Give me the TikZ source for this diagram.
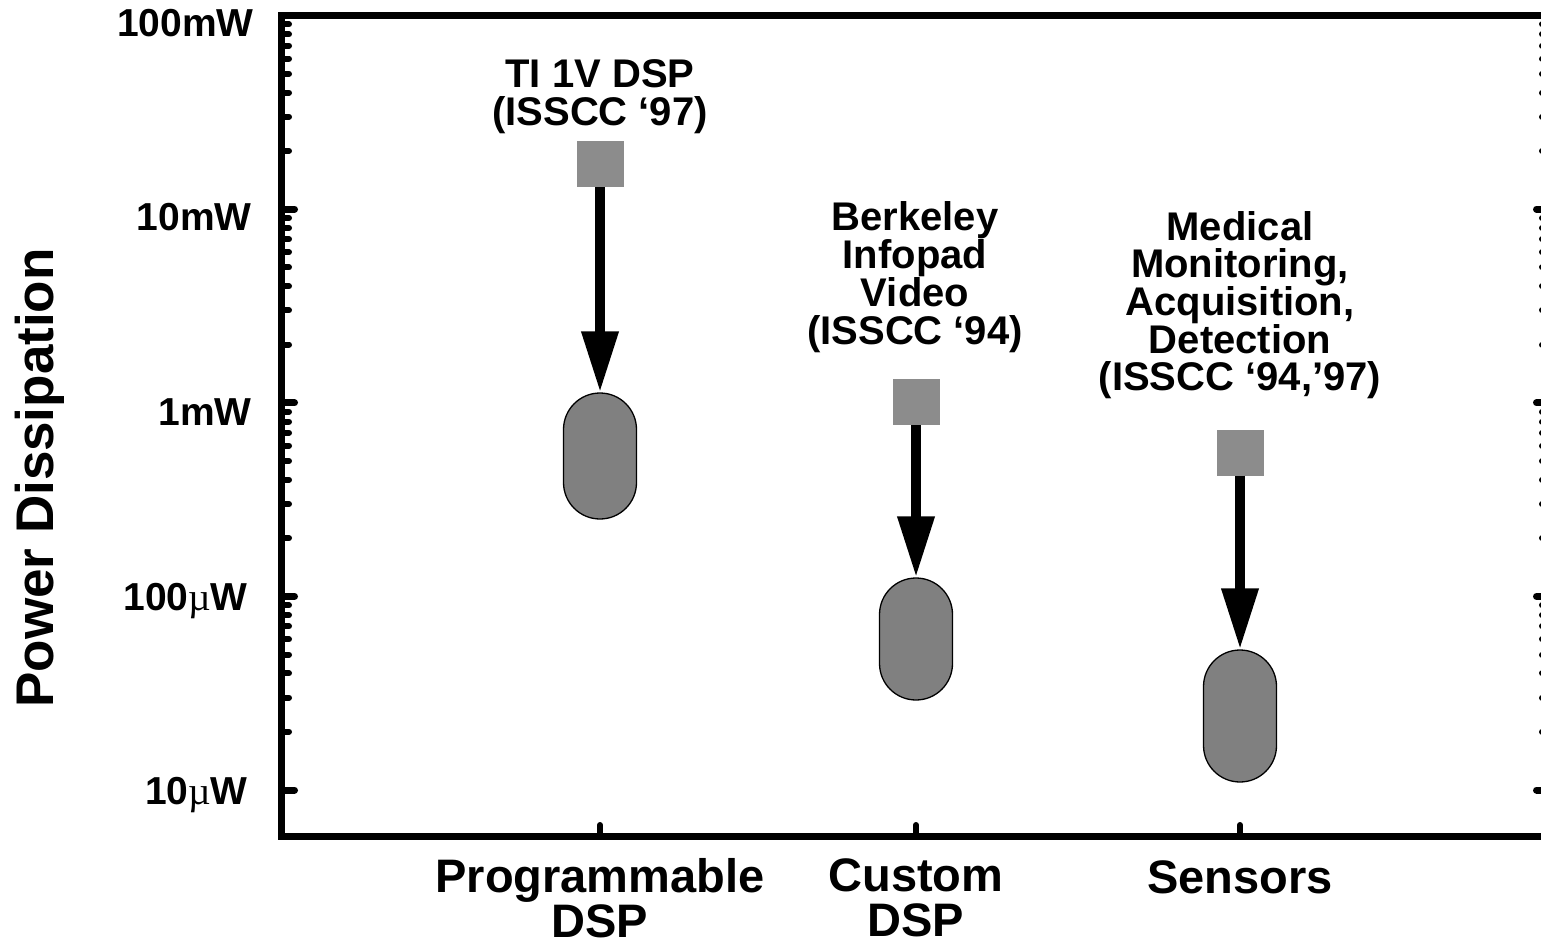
\documentclass[tikz,border=0pt]{standalone}
\usepackage{fontspec}
\setmainfont{Liberation Sans}
\newfontfamily\mufont{Liberation Serif}
\usetikzlibrary{arrows.meta}
\definecolor{sqgray}{gray}{0.55}
\definecolor{pillgray}{gray}{0.5}
\newcommand{\mumark}{{\mufont\mdseries µ}}

\begin{document}
\begin{tikzpicture}[x=1pt,y=-1pt,
  major/.style={line width=7,line cap=round},
  minor/.style={line width=6,line cap=round},
  ylab/.style={font=\fontsize{39}{44}\selectfont\bfseries,anchor=base east,inner sep=0},
  xlab/.style={font=\fontsize{47}{45}\selectfont\bfseries,anchor=north,align=center,inner sep=0},
  note/.style={font=\fontsize{40}{38}\selectfont\bfseries,anchor=north,align=center,inner sep=0},
  paper/.style={rectangle,fill=sqgray,minimum width=47,minimum height=46,inner sep=0},
  target/.style={rectangle,draw,line width=1.3,fill=pillgray,minimum width=73,rounded corners=36.5,inner sep=0},
  trend/.style={line width=10,-{Triangle[width=35pt,length=61pt]}}]
	\useasboundingbox (0,0) rectangle (1541,947);
	% frame and log ticks
	\draw[line width=7] (281.5,15.5) rectangle (1550,836.5);
	\foreach \d in {0,1,2,3}{
		\foreach \m in {2,...,9}{
			\pgfmathsetmacro{\ty}{790-193.6*(\d+log10(\m))}
			\draw[minor] (281.5,\ty) -- (289,\ty);
			\draw[minor] (1550,\ty) -- (1542,\ty);
		}
		\pgfmathsetmacro{\ty}{790-193.6*\d}
		\draw[major] (281.5,\ty) -- (294.5,\ty);
		\draw[major] (1550,\ty) -- (1536.5,\ty);
	}
	\foreach \x in {600,916,1240}
		\draw[minor] (\x,836.5) -- (\x,825);
	% axis labels
	\node[ylab] (l100m) at (254,37) {100mW};
	\node[ylab] (l10m) at (252,230) {10mW};
	\node[ylab] (l1m) at (252,425) {1mW};
	\node[ylab] (l100u) at (248,610) {100\mumark W};
	\node[ylab] (l10u) at (248,804) {10\mumark W};
	\node[rotate=90,font=\fontsize{53}{60}\selectfont\bfseries] (ytitle) at (40,478) {Power Dissipation};
	\node[xlab] (xprog) at (600,858) {Programmable\\DSP};
	\node[xlab] (xcust) at (916,858) {Custom\\DSP};
	\node[xlab] (xsens) at (1240,860) {Sensors};
	% chips
	\node[note] (nti) at (600,59) {TI 1V DSP\\(ISSCC ‘97)};
	\node[note] (nbk) at (915,201) {Berkeley\\Infopad\\Video\\(ISSCC ‘94)};
	\node[note,font=\fontsize{40}{37}\selectfont\bfseries] (nmed) at (1240,211) {Medical\\Monitoring,\\Acquisition,\\Detection\\(ISSCC ‘94,’97)};
	\node[paper] (s1) at (600,164) {};
	\node[paper] (s2) at (916,402) {};
	\node[paper] (s3) at (1240,452.5) {};
	\node[target,minimum height=126] (p1) at (600,456) {};
	\node[target,minimum height=122] (p2) at (916,639) {};
	\node[target,minimum height=132] (p3) at (1240,716) {};
	\draw[trend] (s1) -- (p1);
	\draw[trend] (s2) -- (p2);
	\draw[trend] (s3) -- (p3);
\end{tikzpicture}
\end{document}
